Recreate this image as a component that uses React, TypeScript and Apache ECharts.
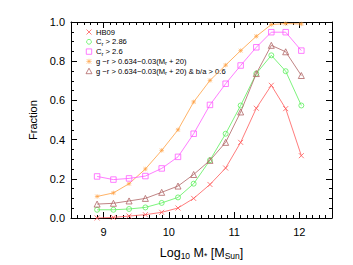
import React, { useEffect, useRef } from "react";
import * as echarts from "echarts";

const massBins = [8.9, 9.15, 9.39, 9.64, 9.89, 10.14, 10.38, 10.63, 10.87, 11.1, 11.34, 11.57, 11.79, 12.03];
const hb09 = [0.0, 0.003, 0.01, 0.017, 0.029, 0.051, 0.1, 0.171, 0.255, 0.386, 0.56, 0.677, 0.558, 0.318];
const cr286 = [0.042, 0.042, 0.046, 0.054, 0.077, 0.105, 0.175, 0.295, 0.43, 0.574, 0.737, 0.83, 0.749, 0.574];
const cr26 = [0.212, 0.196, 0.202, 0.214, 0.253, 0.312, 0.43, 0.577, 0.685, 0.778, 0.871, 0.948, 0.948, 0.854];
const colorCut = [0.11, 0.128, 0.175, 0.25, 0.345, 0.45, 0.592, 0.702, 0.78, 0.854, 0.927, 0.987, 0.992, 0.99];
const colorCutBa = [0.071, 0.075, 0.087, 0.1, 0.131, 0.163, 0.222, 0.294, 0.386, 0.541, 0.737, 0.881, 0.848, 0.727];

const xTickLabels = [9, 10, 11, 12];
const legendLabels = [
  "HB09",
  "C{s|r} > 2.86",
  "C{s|r} > 2.6",
  "g \u2212r > 0.634\u22120.03(M{s|r} + 20)",
  "g \u2212r > 0.634\u22120.03(M{s|r} + 20) & b/a > 0.6",
];

const RED = "#ff5a5a";
const GREEN = "#5cf05c";
const MAGENTA = "#ff5cff";
const ORANGE = "#ffa040";
const BROWN = "#b06464";

const FONT = "Liberation Sans";
const CROSS = "path://M0,0L10,10M10,0L0,10";
const STAR = "path://M0,0L10,10M10,0L0,10M5,-1L5,11M-1,5L11,5";
const CIRCLE = "path://M10,5A5,5,0,1,1,0,5A5,5,0,1,1,10,5Z";
const SQUARE = "path://M0,0L10,0L10,10L0,10Z";
const TRIANGLE = "path://M5,0L10,9L0,9Z";

export default function App() {
  const ref = useRef<HTMLDivElement>(null);
  useEffect(() => {
    if (!ref.current) return;
    const chart = echarts.init(ref.current, null, { renderer: "svg" });

    const xMin = 8.5, xMax = 12.5, yMin = 0, yMax = 1;
    const line = { lineStyle: { color: "#000", width: 1 } };

    const xAxisMajor = (pos: string, labels: boolean) => ({
      type: "value",
      position: pos,
      min: xMin,
      max: xMax,
      axisLine: { show: true, onZero: false, ...line },
      splitLine: { show: false },
      axisTick: { show: true, inside: true, length: 6, customValues: xTickLabels, lineStyle: { color: "#000", width: 1 } },
      axisLabel: labels
        ? { show: true, customValues: xTickLabels, color: "#000", fontFamily: FONT, fontSize: 11, margin: 8 }
        : { show: false },
    });
    const xAxisMinor = (pos: string) => ({
      type: "value",
      position: pos,
      min: xMin,
      max: xMax,
      interval: 0.1,
      axisLine: { show: false, onZero: false },
      splitLine: { show: false },
      axisTick: { show: true, inside: true, length: 3, lineStyle: { color: "#000", width: 1 } },
      axisLabel: { show: false },
    });
    const yAxisMajor = (pos: string, labels: boolean) => ({
      type: "value",
      position: pos,
      min: yMin,
      max: yMax,
      interval: 0.2,
      axisLine: { show: true, onZero: false, ...line },
      splitLine: { show: false },
      axisTick: { show: true, inside: true, length: 6, lineStyle: { color: "#000", width: 1 } },
      axisLabel: labels
        ? { show: true, color: "#000", fontFamily: FONT, fontSize: 11, margin: 6, formatter: (v: number) => v.toFixed(1) }
        : { show: false },
    });
    const yAxisMinor = (pos: string) => ({
      type: "value",
      position: pos,
      min: yMin,
      max: yMax,
      interval: 0.05,
      axisLine: { show: false, onZero: false },
      splitLine: { show: false },
      axisTick: { show: true, inside: true, length: 3, lineStyle: { color: "#000", width: 1 } },
      axisLabel: { show: false },
    });

    const xAxes: any[] = [
      {
        ...xAxisMajor("bottom", true),
        name: "Log{s|10} M{s|*} [M{s|Sun}]",
        nameLocation: "middle",
        nameGap: 27,
        nameTextStyle: {
          color: "#000",
          fontFamily: FONT,
          fontSize: 12.5,
          verticalAlign: "top",
          rich: { s: { fontSize: 8.5, fontFamily: FONT, color: "#000", padding: [6, 0, 0, 0] } },
        },
      },
      xAxisMinor("bottom"),
      xAxisMajor("top", false),
      xAxisMinor("top"),
    ];
    const yAxes: any[] = [
      {
        ...yAxisMajor("left", true),
        name: "Fraction",
        nameLocation: "middle",
        nameGap: 28,
        nameTextStyle: { color: "#000", fontFamily: FONT, fontSize: 11 },
      },
      yAxisMinor("left"),
      yAxisMajor("right", false),
      yAxisMinor("right"),
    ];

    const mk = (name: string, ys: number[], color: string, symbol: string, size: number, z: number, bw = 0.8) => ({
      name,
      type: "line",
      xAxisIndex: 0,
      yAxisIndex: 0,
      data: massBins.map((x, i) => [x, ys[i]]),
      symbol,
      symbolSize: size,
      showSymbol: true,
      z,
      color,
      lineStyle: { color, width: 0.8, type: "solid" },
      itemStyle: { color: "rgba(255,255,255,0)", borderColor: color, borderWidth: bw, borderType: "solid" },
      emphasis: { disabled: true },
    });

    const series = [
      mk("HB09", hb09, RED, CROSS, 5, 5),
      mk("Cr > 2.86", cr286, GREEN, CIRCLE, 5, 4),
      mk("Cr > 2.6", cr26, MAGENTA, SQUARE, 5.5, 3),
      mk("g-r cut", colorCut, ORANGE, STAR, 4.5, 2, 0.6),
      mk("g-r cut & b/a", colorCutBa, BROWN, TRIANGLE, 6, 6),
    ];

    // Legend drawn as graphic
    const lx = 89, tx = 96, ly0 = 32, dy = 9.8;
    const legendColors = [RED, GREEN, MAGENTA, ORANGE, BROWN];
    const graphic: any[] = [];
    legendLabels.forEach((lab, i) => {
      const cy = ly0 + i * dy;
      const c = legendColors[i];
      const st = { stroke: c, lineWidth: 0.8, fill: "none" };
      const r = 2.5;
      if (i === 0) {
        graphic.push({ type: "line", shape: { x1: lx - r, y1: cy - r, x2: lx + r, y2: cy + r }, style: st });
        graphic.push({ type: "line", shape: { x1: lx - r, y1: cy + r, x2: lx + r, y2: cy - r }, style: st });
      } else if (i === 1) {
        graphic.push({ type: "circle", shape: { cx: lx, cy, r: 2.4 }, style: st });
      } else if (i === 2) {
        graphic.push({ type: "rect", shape: { x: lx - 2.7, y: cy - 2.7, width: 5.4, height: 5.4 }, style: st });
      } else if (i === 3) {
        const s3 = { ...st, lineWidth: 0.6 };
        graphic.push({ type: "line", shape: { x1: lx - 2.2, y1: cy - 2.2, x2: lx + 2.2, y2: cy + 2.2 }, style: s3 });
        graphic.push({ type: "line", shape: { x1: lx - 2.2, y1: cy + 2.2, x2: lx + 2.2, y2: cy - 2.2 }, style: s3 });
        graphic.push({ type: "line", shape: { x1: lx, y1: cy - 2.6, x2: lx, y2: cy + 2.6 }, style: s3 });
        graphic.push({ type: "line", shape: { x1: lx - 2.6, y1: cy, x2: lx + 2.6, y2: cy }, style: s3 });
      } else {
        graphic.push({ type: "polygon", shape: { points: [[lx, cy - 3], [lx + 3, cy + 2.5], [lx - 3, cy + 2.5]] }, style: st });
      }
      graphic.push({
        type: "text",
        x: tx,
        y: cy,
        style: {
          text: lab,
          fill: "#000",
          fontFamily: FONT,
          fontSize: 7.6,
          verticalAlign: "middle",
          align: "left",
          rich: { s: { fontSize: 5.8, fontFamily: FONT, fill: "#000", padding: [4, 0, 0, 0] } },
        },
      });
    });

    chart.setOption({
      animation: false,
      backgroundColor: "#fff",
      grid: { left: 71, right: 21, top: 22, bottom: 46, containLabel: false },
      xAxis: xAxes,
      yAxis: yAxes,
      series,
      graphic,
    });
    return () => chart.dispose();
  }, []);
  return <div ref={ref} style={{ position: "fixed", left: 0, top: 0, width: 353, height: 265 }} />;
}
